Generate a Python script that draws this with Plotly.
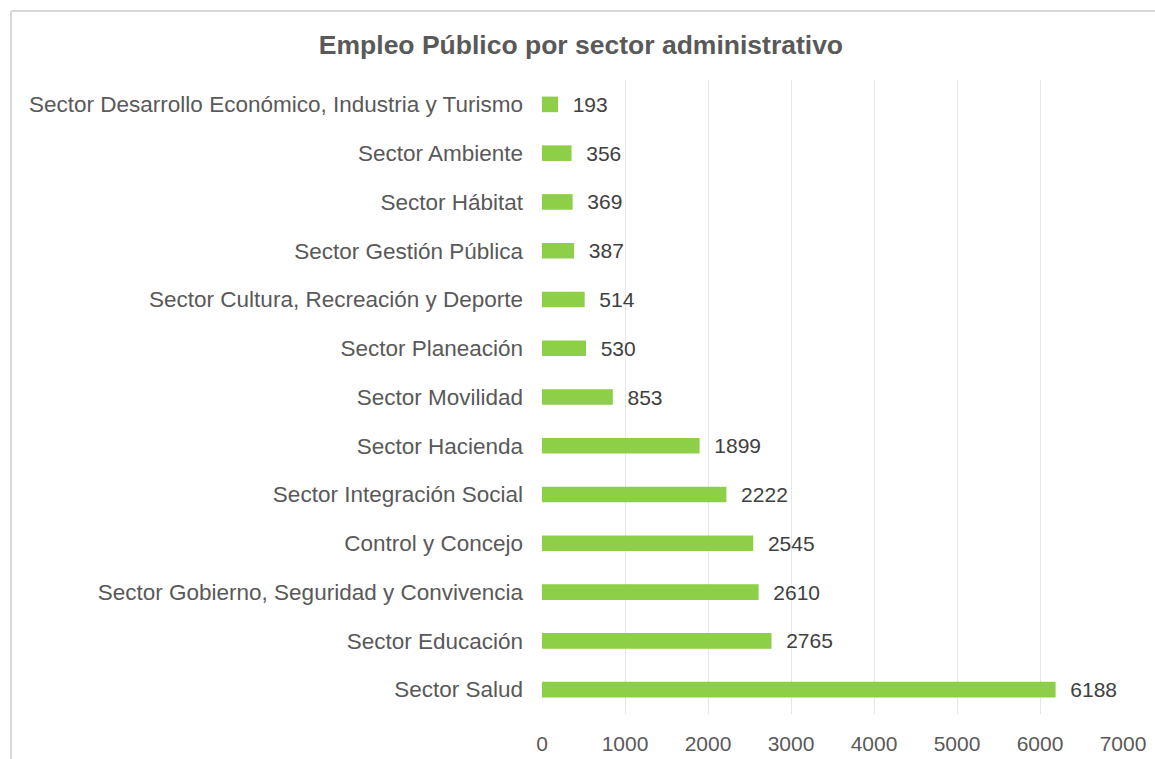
import plotly.graph_objects as go

# Employment counts per administrative sector (top to bottom)
sectores = [
    "Sector Desarrollo Económico, Industria y Turismo",
    "Sector Ambiente",
    "Sector Hábitat",
    "Sector Gestión Pública",
    "Sector Cultura, Recreación y Deporte",
    "Sector Planeación",
    "Sector Movilidad",
    "Sector Hacienda",
    "Sector Integración Social",
    "Control y Concejo",
    "Sector Gobierno, Seguridad y Convivencia",
    "Sector Educación",
    "Sector Salud",
]
empleos = [193, 356, 369, 387, 514, 530, 853, 1899, 2222, 2545, 2610, 2765, 6188]
x_ticks = [0, 1000, 2000, 3000, 4000, 5000, 6000, 7000]

W, H = 1155, 759
L, R, T, B = 542, 32, 80, 45
FONT = "Liberation Sans, Arial, sans-serif"
GRAY = "#595959"

fig = go.Figure(
    go.Bar(
        x=empleos,
        y=sectores,
        orientation="h",
        marker=dict(color="#8DCF46", line=dict(width=0)),
        width=0.32,
        text=["  " + str(v) for v in empleos],
        textposition="outside",
        constraintext="none",
        textfont=dict(family=FONT, size=21, color="#404040"),
        cliponaxis=False,
    )
)

# light frame along the top and left edges
pw = W - L - R
ph = H - T - B
fx = (11 - L) / pw
fy_top = 1 + (T - 11) / ph
fig.add_shape(type="line", xref="paper", yref="paper",
              x0=fx, x1=(W + 5 - L) / pw, y0=fy_top, y1=fy_top,
              line=dict(color="#D9D9D9", width=2))
fig.add_shape(type="line", xref="paper", yref="paper",
              x0=fx, x1=fx, y0=fy_top, y1=-(B + 5) / ph,
              line=dict(color="#D9D9D9", width=2))

fig.update_layout(
    width=W, height=H,
    margin=dict(l=L, r=R, t=T, b=B),
    paper_bgcolor="white",
    plot_bgcolor="white",
    showlegend=False,
    title=dict(
        text="<b>Empleo Público por sector administrativo</b>",
        x=0.503, xref="container", xanchor="center",
        y=1 - 45 / H, yref="container", yanchor="middle",
        font=dict(family=FONT, size=26.5, color=GRAY),
    ),
    xaxis=dict(
        range=[0, 7000],
        tickvals=x_ticks,
        showgrid=True, gridcolor="#E6E6E6", gridwidth=1,
        zeroline=False, showline=False,
        tickfont=dict(family=FONT, size=21, color=GRAY),
        ticks="", ticklabelstandoff=15,
        automargin=False,
    ),
    yaxis=dict(
        autorange="reversed",
        showgrid=False, zeroline=False, showline=False,
        tickfont=dict(family=FONT, size=22.5, color=GRAY),
        ticks="", ticklabelstandoff=18,
        automargin=False,
    ),
)

fig.write_html("out.html")
